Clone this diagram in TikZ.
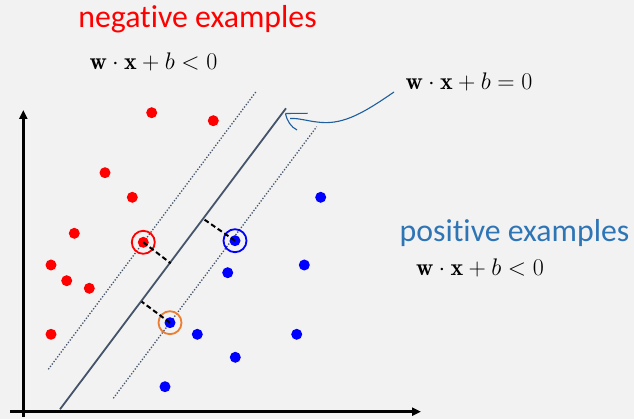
\documentclass[tikz,border=0pt]{standalone}
\usepackage{fix-cm}
\usepackage{fontspec}
\newfontfamily\calib[Ligatures={NoCommon}]{Carlito}
\usetikzlibrary{arrows.meta}
\definecolor{bg}{HTML}{F2F2F2}
\definecolor{slate}{HTML}{44546A}
\definecolor{posblue}{HTML}{2E75B6}
\definecolor{arrblue}{HTML}{1F5F9E}
\definecolor{orng}{HTML}{ED7D31}
\tikzset{
  dot/.style={circle,inner sep=0pt,minimum size=11pt},
  reddot/.style={dot,fill=red},
  bluedot/.style={dot,fill=blue},
  ring/.style={circle,inner sep=0pt,minimum size=23pt,line width=1.8pt},
  axis/.style={line width=2.6pt,-{Triangle[length=9pt,width=8pt]}},
  sep/.style={slate,line width=1.8pt},
  margin/.style={slate,line width=1.3pt,dash pattern=on 1.3pt off 1.7pt},
  gap/.style={black,line width=2pt,dash pattern=on 5pt off 3pt},
  lbl/.style={inner sep=0pt},
  big/.style={lbl,font=\calib\fontsize{31.8}{36}\selectfont},
  eq/.style={lbl,font=\fontsize{24}{28}\selectfont}
}
\begin{document}
\begin{tikzpicture}[x=1pt,y=-1pt]
\fill[bg] (0,0) rectangle (634,419);
\useasboundingbox (0,0) rectangle (634,419);
% axes
\coordinate (o1) at (23.3,417);
\coordinate (o2) at (23.3,110);
\coordinate (x1) at (10,411.7);
\coordinate (x2) at (421,411.7);
\draw[axis] (o1) -- (o2);
\draw[axis] (x1) -- (x2);
% lines
\coordinate (s1) at (60,409.3);
\coordinate (s2) at (286,108.3);
\coordinate (l1) at (48.3,369.3);
\coordinate (l2) at (256,91.7);
\coordinate (m1) at (113.3,398.3);
\coordinate (m2) at (316.7,126.7);
\draw[sep] (s1) -- (s2);
\draw[margin] (l1) -- (l2);
\draw[margin] (m1) -- (m2);
% red dots
\node[reddot] (r1) at (151.7,112.7) {};
\node[reddot] (r2) at (213.3,120.7) {};
\node[reddot] (r3) at (105,172.7) {};
\node[reddot] (r4) at (132.3,197.3) {};
\node[reddot] (r5) at (74.3,233.3) {};
\node[reddot] (r6) at (51,265) {};
\node[reddot] (r7) at (66.7,280.7) {};
\node[reddot] (r8) at (89.3,288.3) {};
\node[reddot] (r9) at (51,334.3) {};
\node[reddot] (rs) at (143.3,242.3) {};
% blue dots
\node[bluedot] (b1) at (320.7,197.3) {};
\node[bluedot] (bs) at (235,240.7) {};
\node[bluedot] (b3) at (304.3,265) {};
\node[bluedot] (b4) at (227.7,272.7) {};
\node[bluedot] (bo) at (170,322.7) {};
\node[bluedot] (b6) at (197.3,334.3) {};
\node[bluedot] (b7) at (296.7,334.3) {};
\node[bluedot] (b8) at (235.3,357.3) {};
\node[bluedot] (b9) at (165,386.7) {};
% rings
\node[ring,draw=red] (rr) at (rs) {};
\node[ring,draw=blue] (br) at (bs) {};
\node[ring,draw=orng] (or) at (bo) {};
% distances
\coordinate (f1) at (170.7,263.3);
\coordinate (f2) at (204,219.3);
\coordinate (f3) at (141.7,301.7);
\draw[gap] (rs.center) -- (f1);
\draw[gap] (bs.center) -- (f2);
\draw[gap] (bo.center) -- (f3);
% labels
\node[big,text=red] (neg) at (197.5,19) {negative examples};
\node[eq] (eqn) at (153.5,61.7) {$\mathbf{w}\cdot\mathbf{x}+b<0$};
\node[eq] (eq0) at (469,81.7) {$\mathbf{w}\cdot\mathbf{x}+b=0$};
\node[big,text=posblue] (pos) at (514.5,233) {positive examples};
\node[eq] (eqp) at (480,268) {$\mathbf{w}\cdot\mathbf{x}+b<0$};
% hand-drawn arrow
\coordinate (a0) at (394,92);
\coordinate (a1) at (290,118.5);
\coordinate (tip) at (285.5,113.5);
\coordinate (h1) at (307.5,113.3);
\coordinate (h2) at (297,130);
\draw[arrblue,line width=1.1pt] (a0) .. controls (365,112) and (345,124) .. (322,122.5) .. controls (308,121.5) and (300,118) .. (a1);
\draw[arrblue,line width=1.1pt] (h1) -- (tip);
\draw[arrblue,line width=1.1pt] (tip) .. controls (287,121) and (291,127) .. (h2);
\end{tikzpicture}
\end{document}
